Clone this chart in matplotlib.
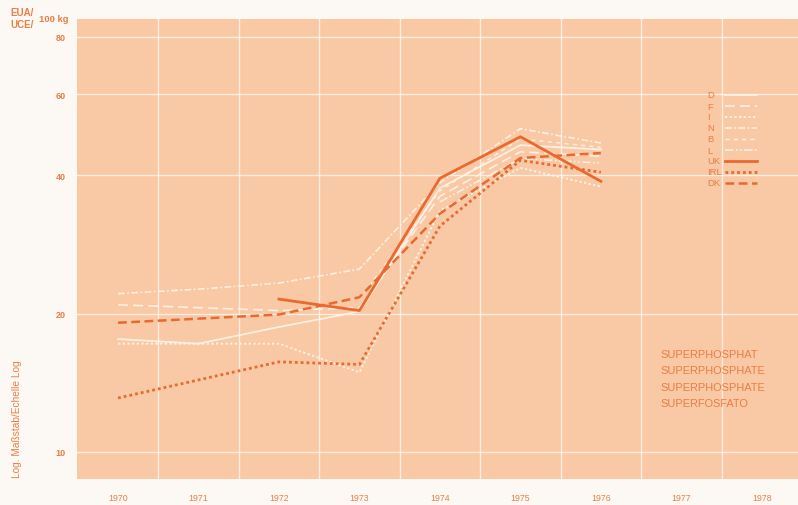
import numpy as np
import matplotlib
matplotlib.use("Agg")
import matplotlib.pyplot as plt
from matplotlib.ticker import FixedLocator, NullFormatter, FixedFormatter

years = [1970, 1971, 1972, 1973, 1974, 1975, 1976]
year_ticks = [1970, 1971, 1972, 1973, 1974, 1975, 1976, 1977, 1978]
y_ticks = [10, 20, 40, 60, 80]

nan = float("nan")
D = [17.6, 17.2, 18.7, 20.2, 37.5, 46.5, 45.5]
F = [20.9, 20.6, 20.3, 20.6, 36.0, 45.0, 44.0]
I = [17.2, 17.2, 17.2, 14.9, 33.5, 41.5, 37.8]
N = [22.1, 22.6, 23.3, 25.0, 38.5, 50.5, 47.0]
B = [nan, nan, nan, 21.5, 37.0, 48.0, 46.0]
L = [nan, nan, nan, nan, 35.0, 43.5, 42.5]
UK = [nan, nan, 21.5, 20.3, 39.4, 48.5, 38.8]
IRL = [13.1, nan, 15.7, 15.5, 31.0, 43.1, 40.6]
DK = [19.1, nan, 19.9, 21.7, 33.0, 43.6, 44.7]

product_names = ["SUPERPHOSPHAT", "SUPERPHOSPHATE", "SUPERPHOSPHATE", "SUPERFOSFATO"]

ORANGE = "#e96a30"
TXT = "#ec7d45"
PEACH = "#f8c9a4"
PAGE = "#fcf9f5"
WHITE = "#fff6ee"

plt.rcParams["font.family"] = ["Liberation Sans", "DejaVu Sans"]

fig = plt.figure(figsize=(7.98, 5.06), dpi=100, facecolor=PAGE)
ax = fig.add_axes([77/798, 26/506, 721/798, 460/506])
ax.set_facecolor(PEACH)
ax.set_yscale("log")
ax.set_xlim(1969.49, 1978.45)
ax.set_ylim(8.73, 87.5)

for s in ax.spines.values():
    s.set_visible(False)

def plot_series(vals, **kw):
    x = np.array(years, dtype=float)
    v = np.array(vals, dtype=float)
    m = ~np.isnan(v)
    return ax.plot(x[m], v[m], **kw)[0]

entries = []
white_styles = [
    ("D", D, "-", 1.3),
    ("F", F, (0, (6, 3)), 1.2),
    ("I", I, (0, (1.2, 1.2)), 1.4),
    ("N", N, (0, (4, 1.5, 1, 1.5)), 1.2),
    ("B", B, (0, (3, 3)), 1.0),
    ("L", L, (0, (5, 1.5, 1, 1.5, 1, 1.5)), 1.2),
]
for name, vals, ls, lw in white_styles:
    kw = dict(color=WHITE, ls=ls, lw=lw, alpha=0.85, zorder=3)
    plot_series(vals, **kw)
    entries.append((name, kw))

for name, vals, kw in [
    ("UK", UK, dict(color=ORANGE, ls="-", lw=2.0, zorder=4)),
    ("IRL", IRL, dict(color=ORANGE, ls=(0, (1, 1.1)), lw=2.0, zorder=4)),
    ("DK", DK, dict(color=ORANGE, ls=(0, (3.5, 1.8)), lw=1.8, zorder=4)),
]:
    plot_series(vals, **kw)
    entries.append((name, kw))

# legend (label left, sample right)
lx_text = (707 - 77) / 721
lx0 = (725 - 77) / 721
lx1 = (757 - 77) / 721
for i, (name, kw) in enumerate(entries):
    yp = (480 - (96 + 11 * i)) / 460
    ax.text(lx_text, yp, name, transform=ax.transAxes, color=TXT, fontsize=6.8,
            ha="left", va="center")
    ax.plot([lx0, lx1], [yp, yp], transform=ax.transAxes, **kw)

# grid
ax.xaxis.set_major_locator(FixedLocator(year_ticks))
ax.xaxis.set_major_formatter(FixedFormatter([str(y) for y in year_ticks]))
ax.xaxis.set_minor_locator(FixedLocator([y + 0.5 for y in year_ticks]))
ax.yaxis.set_major_locator(FixedLocator(y_ticks))
ax.yaxis.set_major_formatter(FixedFormatter([str(v) for v in y_ticks]))
ax.yaxis.set_minor_locator(FixedLocator([]))
ax.yaxis.set_minor_formatter(NullFormatter())
ax.grid(which="minor", axis="x", color="white", lw=1.0, alpha=0.7)
ax.grid(which="major", axis="y", color="white", lw=1.0, alpha=0.7)
ax.grid(which="major", axis="x", visible=False)
ax.set_axisbelow(True)

ax.tick_params(axis="both", which="both", length=0)
ax.tick_params(axis="x", pad=10, labelsize=6.3, labelcolor=TXT)
ax.tick_params(axis="y", pad=8, labelsize=6.5, labelcolor=TXT)
for t in ax.get_yticklabels():
    t.set_fontweight("bold")

for i, name in enumerate(product_names):
    ax.text((660 - 77) / 721, (480 - (355 + 16.3 * i)) / 460, name, transform=ax.transAxes,
            color=TXT, fontsize=7.9, ha="left", va="center")

fig.text(10/798, 1 - 13/506, "EUA/", color=TXT, fontsize=7, fontweight="bold", va="center")
fig.text(10/798, 1 - 25/506, "UCE/", color=TXT, fontsize=7, fontweight="bold", va="center")
fig.text(39/798, 1 - 19/506, "100 kg", color=TXT, fontsize=6.8, fontweight="bold", va="center")
fig.text(17/798, 1 - 478/506, "Log. Maßstab/Echelle Log", color=TXT, fontsize=7.3,
         rotation=90, ha="center", va="bottom")

fig.savefig("out.png", dpi=100, facecolor=PAGE)
